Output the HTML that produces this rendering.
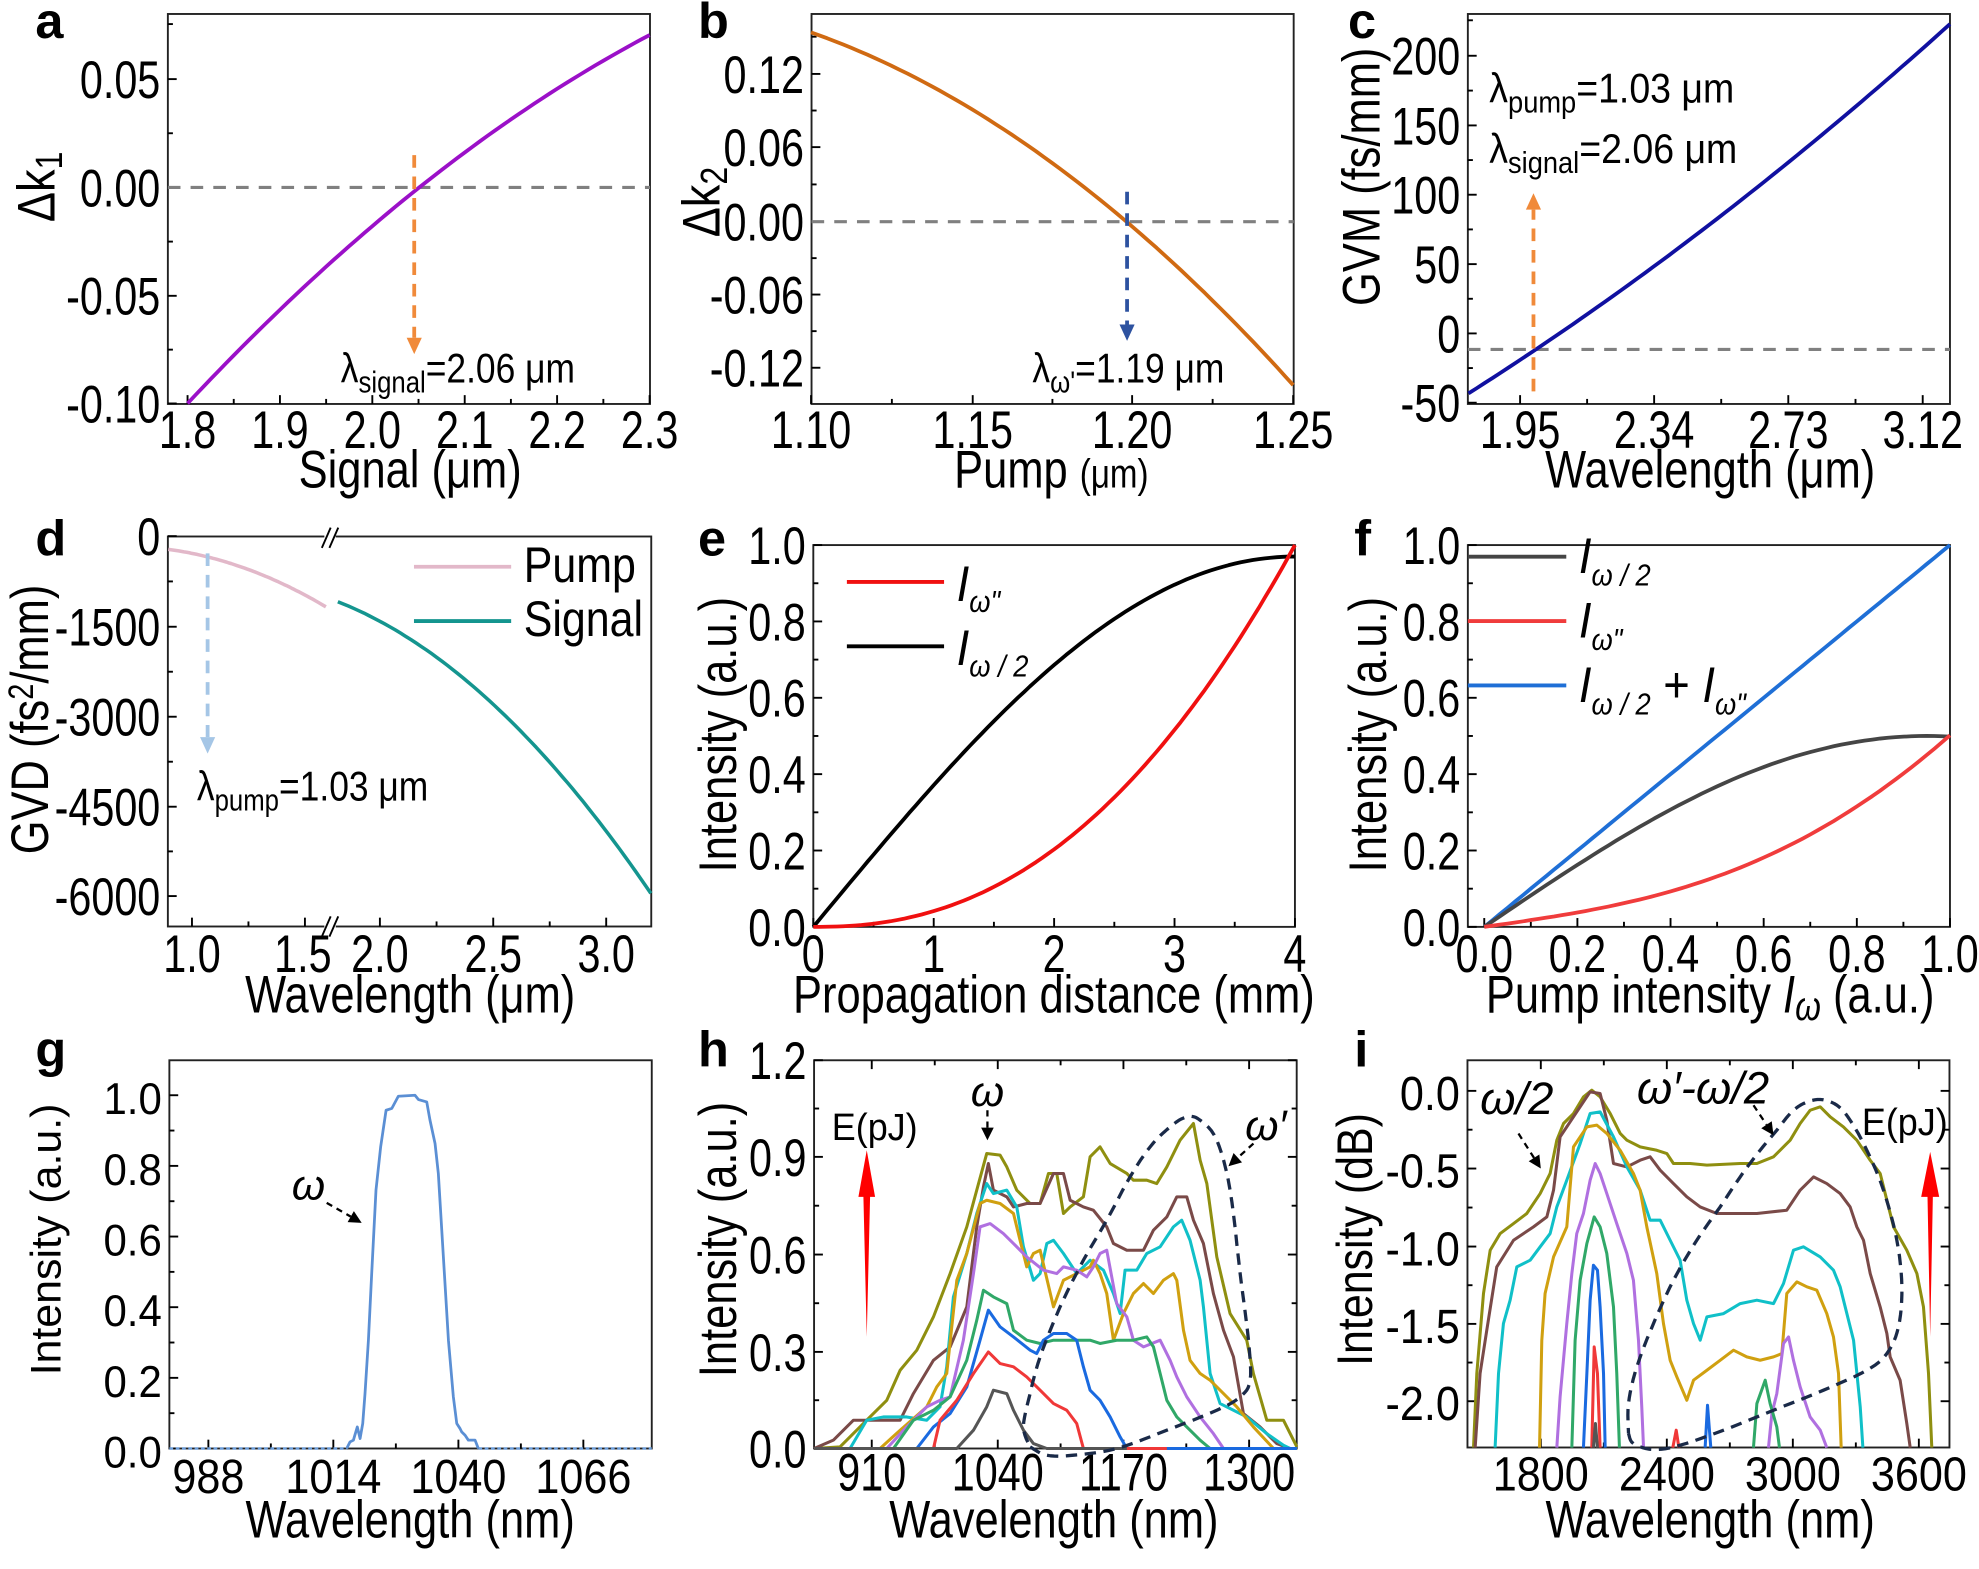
<!DOCTYPE html>
<html><head><meta charset="utf-8"><style>
html,body{margin:0;padding:0;background:#fff;}
svg{display:block;font-family:"Liberation Sans",Arial,sans-serif;}
</style></head><body>
<svg id="s" xmlns="http://www.w3.org/2000/svg" width="1979" height="1569" viewBox="0 0 1568 1243"></svg>
<script>
const S=[];
function txt(x,y,s,o={}){const size=o.s||42,a=o.a||'middle',sx=o.sx||0.78,w=o.w||'normal',f=o.f||'#000',it=o.i?'font-style="italic"':'';
 const tr=`translate(${x},${y})`+(o.r?' rotate(-90)':'')+` scale(${sx},1)`;
 S.push(`<text transform="${tr}" font-size="${size}" text-anchor="${a}" font-weight="${w}" fill="${f}" ${it}>${s}</text>`);}
function line(x1,y1,x2,y2,c='#000',w=1.5,d=''){S.push(`<line x1="${x1}" y1="${y1}" x2="${x2}" y2="${y2}" stroke="${c}" stroke-width="${w}" ${d?`stroke-dasharray="${d}"`:''}/>`);}
function pl(p,c,w=2.5,d=''){S.push(`<polyline points="${p.map(q=>q[0].toFixed(1)+','+q[1].toFixed(1)).join(' ')}" fill="none" stroke="${c}" stroke-width="${w}" stroke-linejoin="round" ${d?`stroke-dasharray="${d}"`:''}/>`);}
function sm(p,n=12){const r=[];for(let i=0;i<p.length-1;i++){const p0=p[Math.max(0,i-1)],p1=p[i],p2=p[i+1],p3=p[Math.min(p.length-1,i+2)];
 for(let k=0;k<n;k++){const t=k/n,t2=t*t,t3=t2*t;const f=(a,b,c,d)=>0.5*((2*b)+(-a+c)*t+(2*a-5*b+4*c-d)*t2+(-a+3*b-3*c+d)*t3);r.push([f(p0[0],p1[0],p2[0],p3[0]),f(p0[1],p1[1],p2[1],p3[1])]);}}
 r.push(p[p.length-1]);return r;}
function lag(P,x0,x1,n=60){const r=[];for(let i=0;i<=n;i++){const x=x0+(x1-x0)*i/n;let y=0;for(let j=0;j<P.length;j++){let L=1;for(let k=0;k<P.length;k++)if(k!==j)L*=(x-P[k][0])/(P[j][0]-P[k][0]);y+=L*P[j][1];}r.push([x,y]);}return r;}
function poly(p,c){S.push(`<polygon points="${p.map(q=>q.join(',')).join(' ')}" fill="${c}"/>`);}
function frame(x0,y0,x1,y1){S.push(`<rect x="${x0}" y="${y0}" width="${x1-x0}" height="${y1-y0}" fill="none" stroke="#222" stroke-width="1.5"/>`);}
function yt(x0,ys,lab,o={}){const sx=o.sx||0.78,s=o.s||42;ys.forEach((y,i)=>{line(x0,y,x0+7,y);if(o.right)line(o.right,y,o.right-7,y);if(lab[i]!=null)txt(x0-6,y+15,lab[i],{a:'end',sx,s});});
 for(let i=0;i<ys.length-1;i++){const m=(ys[i]+ys[i+1])/2;line(x0,m,x0+4,m);if(o.right)line(o.right,m,o.right-4,m);}}
function xt(y0,xs,lab,o={}){const sx=o.sx||0.78,s=o.s||42,ly=o.ly||y0+36;xs.forEach((x,i)=>{line(x,y0,x,y0-7);if(o.top)line(x,o.top,x,o.top+7);if(lab[i]!=null)txt(x,ly,lab[i],{sx,s});});
 for(let i=0;i<xs.length-1;i++){const m=(xs[i]+xs[i+1])/2;line(m,y0,m,y0-4);if(o.top)line(m,o.top,m,o.top+4);}}
function arrowV(x,y1,y2,c,w=3,hw=6,hl=12){const dir=y2>y1?1:-1;line(x,y1,x,y2-dir*hl,c,w,'10,7');poly([[x-hw,y2-dir*hl],[x+hw,y2-dir*hl],[x,y2]],c);}
function arrowD(x1,y1,x2,y2,c='#000'){const dx=x2-x1,dy=y2-y1,L=Math.hypot(dx,dy),ux=dx/L,uy=dy/L,hl=10,hw=5;
 const bx=x2-ux*hl,by=y2-uy*hl;line(x1,y1,bx,by,c,1.8,'5,4');poly([[x2,y2],[bx-uy*hw,by+ux*hw],[bx+uy*hw,by-ux*hw]],c);}
function Z(ox,oy,pts){return pts.map(p=>[(ox+p[0]/3)/1.262,(oy+p[1]/3)/1.262]);}

// ---------- a ----------
txt(28,30,'a',{s:40,w:'bold',sx:1,a:'start'});
frame(133,11,515,320);
yt(133,[62.6,148.4,234.3,319.6],['0.05','0.00','-0.05','-0.10']);
line(133,19,137,19);
xt(320,[148.6,221.8,295,368.2,441.4,514.7],['1.8','1.9','2.0','2.1','2.2','2.3'],{ly:355});
line(133,148.4,515,148.4,'#808080',2.5,'10,8');
pl(lag([[148.6,319.6],[329,151],[514.7,27.7]],148.6,514.7),'#9b10c8',3);
arrowV(328.2,122.8,280.5,'#f08a3a',3,6,13);
txt(270,303,'λ<tspan font-size="24" dy="8">signal</tspan><tspan dy="-8">=2.06 μm</tspan>',{a:'start',s:33,sx:0.85});
txt(43,148,'Δk<tspan font-size="30" dy="6">1</tspan>',{r:1,s:42,sx:0.85});
txt(325,386,'Signal (μm)',{s:42,sx:0.82});

// ---------- b ----------
txt(553,30,'b',{s:40,w:'bold',sx:1,a:'start'});
frame(643,11,1025,320);
yt(643,[58.5,116.5,175.6,233.3,291.3],['0.12','0.06','0.00','-0.06','-0.12']);
line(643,29,647,29);
xt(320,[642.6,770.7,897,1024.6],['1.10','1.15','1.20','1.25'],{ly:355});
line(643,175.6,1025,175.6,'#808080',2.5,'10,8');
pl(lag([[642.6,25.6],[892.6,175.6],[1024.6,305]],642.6,1024.6),'#d06a12',3);
arrowV(893,151.9,270,'#2d52a0',3,6,13);
txt(818,303,'λ<tspan font-size="24" dy="8">ω\'</tspan><tspan dy="-8">=1.19 μm</tspan>',{a:'start',s:33,sx:0.85});
txt(570,160,'Δk<tspan font-size="30" dy="6">2</tspan>',{r:1,s:42,sx:0.85});
txt(833,386,'Pump <tspan font-size="32">(μm)</tspan>',{s:42,sx:0.82});

// ---------- c ----------
txt(1068,30,'c',{s:40,w:'bold',sx:1,a:'start'});
frame(1163,11,1545,320);
yt(1163,[44.1,99.3,154.2,209.2,264.1,319],['200','150','100','50','0','-50']);
line(1163,16,1167,16);
xt(320,[1204.4,1310.6,1416.9,1523.4],['1.95','2.34','2.73','3.12'],{ly:355});
line(1163,276.8,1545,276.8,'#808080',2.5,'10,8');
pl(lag([[1163.5,311.6],[1310,211.3],[1545,19]],1163.5,1545),'#1010a0',3);
arrowV(1215,310,153,'#f08a3a',3,6,13);
txt(1180,81,'λ<tspan font-size="24" dy="8">pump</tspan><tspan dy="-8">=1.03 μm</tspan>',{a:'start',s:33,sx:0.9});
txt(1180,129,'λ<tspan font-size="24" dy="8">signal</tspan><tspan dy="-8">=2.06 μm</tspan>',{a:'start',s:33,sx:0.9});
txt(1093,140,'GVM (fs/mm)',{r:1,s:42,sx:0.82});
txt(1355,386,'Wavelength (μm)',{s:42,sx:0.82});

// ---------- d ----------
txt(28,440,'d',{s:40,w:'bold',sx:1,a:'start'});
frame(133,425,516,734);
yt(133,[424.7,496.5,567.8,639.1,709.9],['0','-1500','-3000','-4500','-6000']);
xt(734,[152.1,241.6],['1.0',null],{ly:770});
xt(734,[301,390.8,480.3],['2.0','2.5','3.0'],{ly:770});
txt(240,770,'1.5',{sx:0.78});
S.push('<rect x="257" y="420" width="9" height="10" fill="#fff"/><rect x="257" y="729" width="9" height="10" fill="#fff"/>');
line(255,434,262,418,'#000',1.5);line(261,434,268,418,'#000',1.5);
line(255,742,262,726,'#000',1.5);line(261,742,268,726,'#000',1.5);
pl(lag([[133.3,435.2],[198,451.6],[258.2,480.7]],133.3,258.2),'#e2b8c9',2.8);
pl(lag([[267.7,476.7],[424.4,591.6],[515.7,707.8]],267.7,515.7),'#14958f',2.8);
line(328,449,405,449,'#e2b8c9',3);line(328,492,405,492,'#14958f',3);
txt(415,461,'Pump',{a:'start',s:40,sx:0.85});txt(415,504,'Signal',{a:'start',s:40,sx:0.85});
arrowV(164.5,438.4,597,'#a5c6e6',3,6,13);
txt(156,634,'λ<tspan font-size="24" dy="8">pump</tspan><tspan dy="-8">=1.03 μm</tspan>',{a:'start',s:33,sx:0.85});
txt(38,570,'GVD (fs<tspan font-size="28" dy="-12">2</tspan><tspan dy="12">/mm)</tspan>',{r:1,s:42,sx:0.82});
txt(325,802,'Wavelength (μm)',{s:42,sx:0.82});

// ---------- e ----------
txt(553,440,'e',{s:40,w:'bold',sx:1,a:'start'});
frame(644.4,431.8,1026,734.3);
const eY=v=>734.3-v*302.5, eX=z=>644.4+z*95.4;
yt(644.4,[0,0.2,0.4,0.6,0.8,1.0].map(eY),['0.0','0.2','0.4','0.6','0.8','1.0']);
xt(734.3,[0,1,2,3,4].map(eX),['0','1','2','3','4'],{ly:770});
let pb=[],pr=[];for(let i=0;i<=80;i++){const z=i/20;pb.push([eX(z),eY(0.97*Math.sin(z*Math.PI/8))]);pr.push([eX(z),eY(Math.pow(z/4,2.3))]);}
pl(pb,'#000',3);pl(pr,'#f01010',3);
line(671,461,748,461,'#f01010',3);line(671,512,748,512,'#000',3);
txt(758,476,'<tspan font-style="italic">I</tspan><tspan font-size="24" dy="9" font-style="italic">ω"</tspan>',{a:'start',s:40,sx:0.9});
txt(758,527,'<tspan font-style="italic">I</tspan><tspan font-size="24" dy="9" font-style="italic">ω / 2</tspan>',{a:'start',s:40,sx:0.9});
txt(583,582,'Intensity (a.u.)',{r:1,s:42,sx:0.82});
txt(835,802,'Propagation distance (mm)',{s:42,sx:0.82});

// ---------- f ----------
txt(1073,440,'f',{s:40,w:'bold',sx:1,a:'start'});
frame(1163,431.8,1545,734.3);
const fX=p=>1176+p*369;
yt(1163,[0,0.2,0.4,0.6,0.8,1.0].map(eY),['0.0','0.2','0.4','0.6','0.8','1.0']);
xt(734.3,[0,0.2,0.4,0.6,0.8,1.0].map(fX),['0.0','0.2','0.4','0.6','0.8','1.0'],{ly:770});
let fb=[],fg=[],fr=[];for(let i=0;i<=60;i++){const p=i/60,g=0.5*Math.sin(p*Math.PI/1.9);fb.push([fX(p),eY(p)]);fg.push([fX(p),eY(g)]);fr.push([fX(p),eY(p-g)]);}
pl(fb,'#1f6fd6',3);pl(fg,'#454545',3);pl(fr,'#f03c3c',3);
line(1163,441,1241,441,'#454545',3);line(1163,492,1241,492,'#f03c3c',3);line(1163,543,1241,543,'#1f6fd6',3);
txt(1251,454,'<tspan font-style="italic">I</tspan><tspan font-size="24" dy="10" font-style="italic">ω / 2</tspan>',{a:'start',s:40,sx:0.9});
txt(1251,505,'<tspan font-style="italic">I</tspan><tspan font-size="24" dy="10" font-style="italic">ω"</tspan>',{a:'start',s:40,sx:0.9});
txt(1251,556,'<tspan font-style="italic">I</tspan><tspan font-size="24" dy="10" font-style="italic">ω / 2</tspan><tspan dy="-10"> + </tspan><tspan font-style="italic">I</tspan><tspan font-size="24" dy="10" font-style="italic">ω"</tspan>',{a:'start',s:40,sx:0.9});
txt(1098,582,'Intensity (a.u.)',{r:1,s:42,sx:0.82});
txt(1355,802,'Pump intensity <tspan font-style="italic">I</tspan><tspan font-style="italic" font-size="32" dy="6">ω</tspan><tspan dy="-6"> (a.u.)</tspan>',{s:42,sx:0.82});

// ---------- g ----------
txt(28,845,'g',{s:40,w:'bold',sx:1,a:'start'});
frame(134.2,840,516.4,1147.6);
const gY=v=>1147.6-v*(1147.6-867.7);
yt(134.2,[0,0.2,0.4,0.6,0.8,1.0].map(gY),['0.0','0.2','0.4','0.6','0.8','1.0'],{sx:0.95,s:35});
xt(1147.6,[165.1,264.1,363.2,462.2],['988','1014','1040','1066'],{ly:1183,sx:0.9,s:38});
pl(Z(160,1040,[[28,1225],[560,1225]]),'#6a9bd8',2,'3,2');
pl(Z(160,1040,[[955,1225],[1475,1225]]),'#6a9bd8',2,'3,2');
pl(Z(160,1040,[[560,1225],[570,1205],[580,1200],[592,1160],[600,1195],[608,1150],[615,1060],[625,900],[635,700],[648,450],[662,320],[678,210],[695,205],[715,168],[765,165],[775,178],[800,185],[810,240],[825,310],[835,400],[850,650],[865,900],[880,1070],[890,1150],[900,1165],[905,1175],[915,1185],[925,1200],[945,1200],[955,1225]]),'#5b8fd4',2.2);
{const p=Z(160,1040,[[395,478]])[0];txt(p[0],p[1],'ω',{a:'start',s:34,sx:1,i:1,f:'#000'});}
{const a=Z(160,1040,[[500,488],[605,548]]);arrowD(a[0][0],a[0][1],a[1][0],a[1][1]);}
txt(48,982,'Intensity (a.u.)',{r:1,s:34,sx:1});
txt(325,1218,'Wavelength (nm)',{s:42,sx:0.82});

// ---------- h ----------
txt(553,845,'h',{s:40,w:'bold',sx:1,a:'start'});
frame(645,840,1027.4,1147.6);
const HY=[1225,935,643,350,60].map(z=>(1040+z/3)/1.262);
yt(645,HY,['0.0','0.3','0.6','0.9','1.2'],{right:1027.4});
const HX=[215,593,970,1347].map(z=>(800+z/3)/1.262);
xt(1147.6,HX,['910','1040','1170','1300'],{ly:1181,top:840});
const hz=(p,c)=>pl(Z(800,1040,p),c,2.4);
hz([[42,1225],[120,1220],[200,1140],[260,1080],[300,990],[350,930],[400,830],[450,700],[500,560],[530,450],[560,340],[600,345],[620,380],[650,450],[690,490],[720,490],[745,400],[770,400],[790,520],[810,500],[850,470],[870,350],[900,320],[930,370],[980,400],[1000,420],[1040,420],[1070,430],[1100,380],[1140,300],[1180,250],[1200,360],[1220,430],[1250,650],[1290,820],[1340,900],[1360,1000],[1400,1140],[1450,1140],[1490,1220]],'#8f8f10');
hz([[42,1225],[100,1200],[160,1140],[230,1140],[300,1140],[340,1060],[400,960],[450,920],[500,800],[530,560],[550,440],[565,370],[580,450],[620,470],[640,500],[680,490],[720,490],[760,400],[790,400],[810,480],[850,500],[880,510],[920,560],[940,610],[980,630],[1030,630],[1060,570],[1100,530],[1130,470],[1160,470],[1180,540],[1210,610],[1240,760],[1270,870],[1300,950],[1330,1120],[1380,1160],[1430,1210],[1470,1225]],'#7a4a48');
hz([[42,1225],[150,1225],[200,1140],[250,1130],[320,1130],[380,1140],[420,1100],[440,980],[460,770],[500,640],[530,520],[560,430],[580,460],[620,450],[650,500],[670,620],[700,720],[720,700],[740,610],[760,600],[790,640],[830,700],[870,660],[910,690],[940,760],[960,820],[975,690],[1010,690],[1040,640],[1080,620],[1120,560],[1145,540],[1170,600],[1200,720],[1210,800],[1230,1000],[1260,1090],[1300,1110],[1340,1130],[1400,1180],[1450,1215],[1470,1225]],'#10c0c8');
hz([[42,1225],[240,1225],[300,1170],[380,1100],[410,1040],[440,1000],[470,720],[500,640],[540,490],[560,480],[600,490],[640,520],[660,600],[680,680],[700,640],[720,630],[760,800],[790,720],[830,700],[870,680],[880,660],[900,700],[920,760],[940,900],[970,820],[1000,760],[1030,730],[1060,760],[1090,720],[1120,700],[1130,720],[1150,870],[1170,960],[1200,1000],[1230,1020],[1270,1060],[1310,1100],[1360,1160],[1420,1225]],'#d0a010');
hz([[42,1225],[260,1225],[320,1160],[380,1100],[420,1080],[450,1070],[490,900],[520,700],[540,560],[570,550],[610,580],[640,610],[680,650],[730,690],[770,700],[790,680],[830,690],[860,710],[880,680],[900,640],[920,630],[950,790],[980,830],[1000,900],[1030,920],[1080,900],[1110,960],[1130,1010],[1160,1070],[1200,1130],[1240,1180],[1270,1225],[1490,1225]],'#b070e0');
hz([[42,1225],[280,1225],[340,1140],[400,1110],[450,1070],[500,960],[530,840],[550,750],[580,770],[620,790],[640,870],[680,900],[720,910],[760,900],[820,900],[870,900],[900,910],[950,900],[1000,900],[1040,890],[1060,920],[1080,1000],[1100,1080],[1130,1130],[1160,1160],[1200,1200],[1230,1225],[1490,1225]],'#30a868');
hz([[42,1225],[350,1225],[400,1160],[450,1120],[500,1040],[540,900],[565,810],[600,860],[640,890],[690,930],[710,940],[730,900],[760,880],[800,880],[830,900],[850,980],[870,1050],[900,1080],[930,1130],[960,1190],[980,1225],[1490,1225]],'#1a6ae0');
hz([[42,1225],[400,1225],[420,1140],[470,1080],[520,1000],[565,935],[600,970],[640,980],[680,1010],[720,1050],[760,1090],[800,1110],[830,1150],[850,1225],[1100,1225]],'#f03838');
hz([[42,1225],[470,1225],[520,1170],[560,1100],[580,1050],[620,1060],[640,1110],[670,1170],[700,1210],[740,1225],[980,1225]],'#555');
pl(sm(Z(800,1040,[[690,1220],[740,1245],[820,1245],[950,1225],[1100,1170],[1250,1110],[1320,1070],[1350,1020],[1345,900],[1320,700],[1290,450],[1250,300],[1200,240],[1160,230],[1110,260],[1050,320],[990,410],[920,540],[850,660],[780,800],[720,950],[690,1060],[670,1160],[690,1220]]),6),'#1a2a48',2.6,'9,6');
poly(Z(800,1040,[[200,890],[190,470],[175,470],[200,330],[225,470],[210,470]]),'#ff0000');
{const p=Z(800,1040,[[95,300]])[0];txt(p[0],p[1],'E(pJ)',{a:'start',s:30,sx:0.95});}
{const p=Z(800,1040,[[562,198]])[0];txt(p[0],p[1],'ω',{s:34,sx:1,i:1});}
{const a=Z(800,1040,[[562,210],[562,300]]);arrowD(a[0][0],a[0][1],a[1][0],a[1][1]);}
{const p=Z(800,1040,[[1335,300]])[0];txt(p[0],p[1],'ω′',{a:'start',s:34,sx:1,i:1});}
{const a=Z(800,1040,[[1360,310],[1285,378]]);arrowD(a[0][0],a[0][1],a[1][0],a[1][1]);}
txt(583,982,'Intensity (a.u.)',{r:1,s:42,sx:0.82});
txt(835,1218,'Wavelength (nm)',{s:42,sx:0.82});

// ---------- i ----------
txt(1073,845,'i',{s:40,w:'bold',sx:1,a:'start'});
frame(1162.7,840,1544.6,1146.8);
const IY=[152,385,619,851,1083].map(z=>(1040+z/3)/1.262);
yt(1162.7,IY,['0.0','-0.5','-1.0','-1.5','-2.0'],{right:1544.6,sx:0.9,s:38});
const IX=[302,680,1058,1436].map(z=>(1440+z/3)/1.262);
xt(1146.8,IX,['1800','2400','3000','3600'],{ly:1181,top:840,sx:0.9,s:38});
const iz=(p,c)=>pl(Z(1440,1040,p),c,2.4);
iz([[100,1222],[110,1000],[130,760],[150,630],[180,580],[220,550],[260,520],[300,460],[330,400],[350,300],[370,250],[400,220],[430,170],[455,150],[480,170],[510,220],[540,280],[560,300],[600,320],[650,330],[680,340],[700,370],[750,370],[800,375],[900,370],[950,370],[1000,350],[1050,300],[1080,250],[1110,210],[1140,200],[1170,230],[1210,260],[1250,300],[1290,360],[1320,400],[1360,560],[1400,630],[1430,700],[1450,800],[1465,1000],[1475,1222]],'#8f8f10');
iz([[105,1222],[120,1000],[140,870],[170,680],[220,600],[280,560],[320,530],[340,450],[360,290],[400,230],[450,155],[480,160],[500,240],[520,370],[560,380],[600,360],[630,350],[660,390],[700,430],[740,470],[780,500],[830,520],[880,520],[950,520],[1040,510],[1080,450],[1120,410],[1160,430],[1200,460],[1230,500],[1250,560],[1270,600],[1290,700],[1320,800],[1340,880],[1350,950],[1380,1020],[1400,1150],[1410,1222]],'#7a4a48');
iz([[165,1222],[175,1000],[190,850],[210,780],[230,680],[270,660],[300,620],[330,580],[350,500],[380,420],[420,310],[450,220],[480,215],[520,290],[560,380],[600,450],[630,540],[660,540],[690,600],[720,660],[740,780],[760,850],[780,900],[800,830],[850,820],[900,790],[950,780],[1000,790],[1030,730],[1060,630],[1090,620],[1140,650],[1180,690],[1200,740],[1240,900],[1260,1100],[1268,1222]],'#10c0c8');
iz([[298,1222],[305,900],[315,760],[340,650],[380,560],[400,320],[440,260],[470,255],[500,280],[540,330],[580,400],[600,450],[620,560],[650,700],[670,850],[690,960],[710,1010],[740,1080],[760,1020],[800,990],[840,960],[880,930],[920,950],[960,960],[1000,950],[1025,940],[1040,760],[1070,725],[1100,740],[1130,750],[1160,820],[1180,890],[1195,1000],[1203,1222]],'#d0a010');
iz([[350,1222],[360,1070],[380,850],[395,700],[410,580],[430,520],[450,420],[465,370],[480,400],[500,460],[530,550],[560,640],[580,720],[595,900],[605,1100],[610,1222]],'#b070e0');
iz([[985,1222],[995,1120],[1010,1060],[1030,910],[1045,890],[1060,960],[1080,1040],[1110,1130],[1140,1170],[1160,1222]],'#b070e0');
iz([[395,1222],[405,900],[420,720],[440,610],[462,530],[480,560],[500,640],[520,800],[530,1000],[538,1222]],'#30a868');
iz([[940,1222],[950,1090],[975,1020],[990,1090],[1010,1160],[1018,1222]],'#30a868');
iz([[430,1222],[440,1000],[450,780],[460,675],[472,690],[480,800],[490,1000],[495,1222]],'#1a6ae0');
iz([[795,1222],[802,1095],[812,1222]],'#1a6ae0');
iz([[455,1222],[462,920],[472,1000],[480,1222]],'#f03838');
iz([[698,1222],[708,1170],[716,1222]],'#f03838');
iz([[460,1222],[466,1150],[472,1222]],'#555');
pl(sm(Z(1440,1040,[[565,1180],[580,1210],[640,1228],[720,1215],[850,1170],[1000,1110],[1150,1050],[1280,990],[1340,940],[1375,860],[1385,740],[1370,600],[1330,450],[1280,330],[1230,240],[1190,195],[1140,178],[1090,190],[1050,220],[1010,270],[960,330],[900,410],[840,500],[770,600],[700,720],[640,850],[590,980],[565,1090],[565,1180]]),6),'#1a2a48',2.6,'9,6');
poly(Z(1440,1040,[[1470,890],[1462,470],[1443,470],[1470,335],[1497,470],[1478,470]]),'#ff0000');
{const p=Z(1440,1040,[[120,222]])[0];txt(p[0],p[1],'ω/2',{a:'start',s:36,sx:1,i:1});}
{const a=Z(1440,1040,[[235,280],[302,385]]);arrowD(a[0][0],a[0][1],a[1][0],a[1][1]);}
{const p=Z(1440,1040,[[590,190]])[0];txt(p[0],p[1],'ω′-ω/2',{a:'start',s:36,sx:1,i:1});}
{const a=Z(1440,1040,[[940,195],[1000,285]]);arrowD(a[0][0],a[0][1],a[1][0],a[1][1]);}
{const p=Z(1440,1040,[[1265,285]])[0];txt(p[0],p[1],'E(pJ)',{a:'start',s:30,sx:0.95});}
txt(1087,982,'Intensity (dB)',{r:1,s:40,sx:0.85});
txt(1355,1218,'Wavelength (nm)',{s:42,sx:0.82});

document.getElementById('s').innerHTML=S.join('');
</script>
</body></html>
